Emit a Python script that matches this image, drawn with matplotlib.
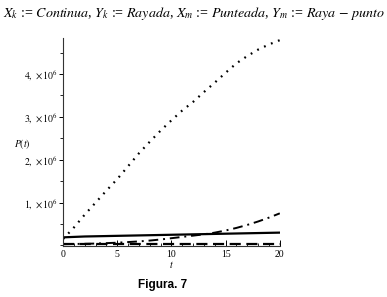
import matplotlib

matplotlib.use("Agg")
import matplotlib.pyplot as plt
from matplotlib.ticker import FixedLocator, MultipleLocator

# values (P in units of 1e6)
t = [0, 1, 2, 3, 4, 5, 6, 7, 8, 9, 10, 11, 12, 13, 14, 15, 16, 17, 18, 19, 20]
x_k = [0.19, 0.2, 0.21, 0.215, 0.22, 0.225, 0.23, 0.235, 0.24, 0.245, 0.25,
       0.255, 0.26, 0.265, 0.27, 0.275, 0.28, 0.285, 0.29, 0.295, 0.3]
y_k = [0.04] * 21
x_m = [0.15, 0.42, 0.72, 1.0, 1.28, 1.55, 1.85, 2.15, 2.42, 2.68, 2.92,
       3.15, 3.35, 3.58, 3.8, 4.03, 4.25, 4.42, 4.57, 4.69, 4.79]
y_m = [0.03, 0.035, 0.04, 0.045, 0.055, 0.065, 0.08, 0.095, 0.115, 0.14, 0.17,
       0.2, 0.23, 0.26, 0.3, 0.35, 0.41, 0.48, 0.56, 0.65, 0.75]
y_ticks = [1, 2, 3, 4]
x_ticks = [0, 5, 10, 15, 20]

plt.rcParams["mathtext.fontset"] = "stix"
plt.rcParams["font.family"] = "serif"
plt.rcParams["font.serif"] = ["Liberation Serif", "DejaVu Serif"]

fig = plt.figure(figsize=(3.87, 2.97), dpi=100)
ax = fig.add_axes([0.163, 0.172, 0.560, 0.700])

scale = 1e6
ax.plot(t, [v * scale for v in x_k], color="black", linewidth=1.6, linestyle="-")
ax.plot(t, [v * scale for v in y_k], color="black", linewidth=1.6, linestyle=(0, (5, 2.5)))
ax.plot(t, [v * scale for v in x_m], color="black", linewidth=1.6, linestyle=(0, (0.8, 2.6)))
ax.plot(t, [v * scale for v in y_m], color="black", linewidth=1.4, linestyle=(0, (5, 2.5, 1, 2.5)))

ax.set_xlim(0, 20)
ax.set_ylim(-0.01 * scale, 4.84 * scale)
for side in ("top", "right"):
    ax.spines[side].set_visible(False)
for side in ("left", "bottom"):
    ax.spines[side].set_linewidth(0.8)
    ax.spines[side].set_color("#333333")

ax.xaxis.set_major_locator(FixedLocator(x_ticks))
ax.xaxis.set_minor_locator(MultipleLocator(1))
ax.yaxis.set_major_locator(FixedLocator([v * scale for v in y_ticks]))
ax.yaxis.set_minor_locator(MultipleLocator(0.5 * scale))
ax.set_xticklabels([str(v) for v in x_ticks])
ax.set_yticklabels([rf"${v},\,\times 10^6$" for v in y_ticks])
ax.tick_params(axis="x", which="major", direction="in", length=4, width=0.7, labelsize=7, pad=3)
ax.tick_params(axis="x", which="minor", direction="in", length=2, width=0.6)
ax.tick_params(axis="y", which="major", direction="out", length=3, width=0.7, labelsize=7, pad=1)
ax.tick_params(axis="y", which="minor", direction="out", length=2, width=0.6)

ax.set_xlabel(r"$t$", fontsize=7, labelpad=0)
ax.set_ylabel(r"$P(t)$", fontsize=7, rotation=0, ha="center", va="center")
ax.yaxis.set_label_coords(-0.19, 0.49)

fig.text(0.008, 0.953,
         r"$X_k$ := $Continua$, $Y_k$ := $Rayada$, $X_m$ := $Punteada$, $Y_m$ := $Raya$ $-$ $punto$",
         fontsize=10.1, ha="left", va="center")
fig.text(0.42, 0.04, "Figura. 7", fontsize=8.5, fontweight="bold",
         family="Liberation Sans", ha="center", va="center")

fig.savefig("out.png", dpi=100)
